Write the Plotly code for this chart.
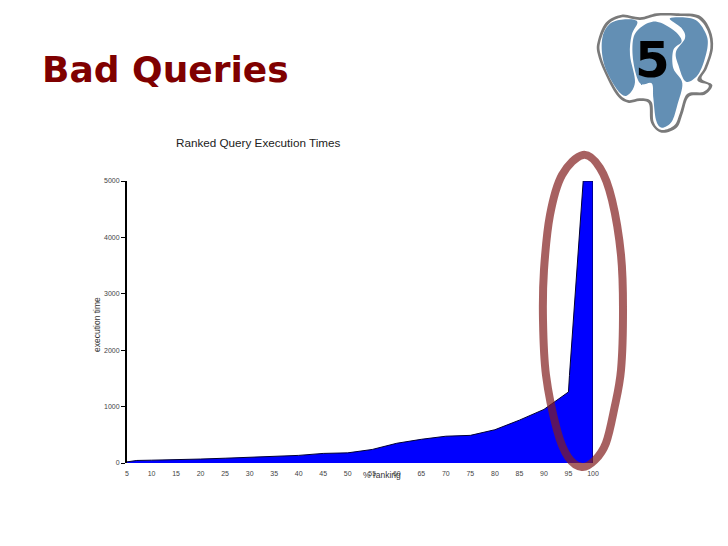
import plotly.graph_objects as go

rank_pct = [5, 7, 10, 15, 20, 25, 30, 35, 40, 45, 50, 55, 60, 65, 70, 75, 80, 85, 90, 95, 95.2, 98, 100, 100]
exec_time = [20, 45, 50, 55, 70, 85, 100, 110, 135, 170, 180, 240, 350, 420, 475, 490, 590, 760, 950, 1260, 1550, 5000, 5000, 0]
x_ticks = list(range(5, 101, 5))
y_ticks = [0, 1000, 2000, 3000, 4000, 5000]

# The page body has an 8px margin, so figure pixels = window pixels - 8.
PAGE = 8
W, H = 712, 530
L, R, T, B = 127, 593, 181, 463  # plot area in window pixels


def px(x):
    return (x - L) / (R - L)


def py(y):
    return (B - y) / (B - T)


def smooth(points):
    """Closed smooth path through outline points given in window pixels."""
    p = [(px(a), py(b)) for a, b in points]
    n = len(p)
    s = f"M{p[0][0]:.4f},{p[0][1]:.4f}"
    for i in range(n):
        p0, p1, p2, p3 = p[i - 1], p[i], p[(i + 1) % n], p[(i + 2) % n]
        c1 = (p1[0] + (p2[0] - p0[0]) / 6, p1[1] + (p2[1] - p0[1]) / 6)
        c2 = (p2[0] - (p3[0] - p1[0]) / 6, p2[1] - (p3[1] - p1[1]) / 6)
        s += f" C{c1[0]:.4f},{c1[1]:.4f} {c2[0]:.4f},{c2[1]:.4f} {p2[0]:.4f},{p2[1]:.4f}"
    return s + " Z"


def logo(points):
    return smooth([(590 + a / 3, 5 + b / 3) for a, b in points])


outer = [(23, 110), (47, 53), (95, 29), (150, 37), (200, 25), (260, 25), (327, 31), (361, 75), (369, 130),
         (351, 190), (335, 221), (367, 240), (344, 269), (297, 275), (278, 326), (260, 368), (215, 383),
         (183, 353), (177, 297), (150, 288), (114, 293), (80, 270), (43, 201), (23, 146)]
inner = [(31, 110), (54, 59), (97, 37), (150, 45), (200, 33), (260, 33), (321, 39), (353, 78), (361, 130), (343, 188),
         (322, 226), (356, 241), (339, 261), (291, 267), (270, 323), (253, 361), (215, 375), (191, 351), (185, 291),
         (150, 280), (115, 285), (85, 263), (50, 199), (31, 145)]
left_ear = [(36, 105), (58, 58), (105, 43), (142, 50), (125, 90), (120, 150), (135, 232), (110, 272), (80, 252), (43, 180)]
right_ear = [(240, 40), (312, 43), (347, 85), (352, 130), (327, 205), (288, 230), (265, 180), (258, 140), (285, 100), (275, 70)]
face = [(155, 65), (200, 50), (250, 75), (275, 108), (250, 135), (250, 190), (277, 235), (262, 300), (245, 350),
        (215, 368), (198, 345), (190, 280), (185, 235), (150, 235), (130, 170), (130, 100)]

highlight = [(583, 155), (562, 175), (550, 215), (544, 270), (543, 320), (546, 375), (557, 430), (568, 457), (582, 467),
             (595, 460), (606, 443), (614, 410), (621, 370), (623, 310), (621, 255), (612, 200), (600, 168)]

shapes = [dict(type="path", xref="paper", yref="paper", path=logo(outer), fillcolor="#7A7A7A", line=dict(width=0), layer="above"),
          dict(type="path", xref="paper", yref="paper", path=logo(inner), fillcolor="white", line=dict(width=0), layer="above")]
for part in (left_ear, right_ear, face):
    shapes.append(dict(type="path", xref="paper", yref="paper", path=logo(part), fillcolor="#638FB4", line=dict(width=0), layer="above"))
shapes.append(dict(type="path", xref="paper", yref="paper", path=smooth(highlight),
                   line=dict(color="rgba(130,30,30,0.7)", width=8), fillcolor="rgba(0,0,0,0)", layer="above"))

fig = go.Figure(go.Scatter(
    x=rank_pct, y=exec_time, mode="lines", fill="tozeroy", fillcolor="#0000FF",
    line=dict(color="#000033", width=1), hoverinfo="skip", showlegend=False,
))


def note(text, x, y, size, color, family="Liberation Sans", weight="normal", angle=0):
    return dict(text=text, xref="paper", yref="paper", x=px(x), y=py(y), xanchor="center", yanchor="middle",
                showarrow=False, textangle=angle, font=dict(family=family, size=size, color=color, weight=weight))


fig.update_layout(
    width=W, height=H, autosize=False, paper_bgcolor="white", plot_bgcolor="white",
    margin=dict(l=L - PAGE, r=W - (R - PAGE), t=T - PAGE, b=H - (B - PAGE), pad=0),
    font=dict(family="Liberation Sans", color="#333333", size=7),
    xaxis=dict(range=[5, 100], tickmode="array", tickvals=x_ticks, ticks="outside", ticklen=4,
               tickcolor="rgba(0,0,0,0)", showgrid=False, zeroline=False, showline=False,
               tickfont=dict(size=7, color="#444444")),
    yaxis=dict(range=[0, 5000], tickmode="array", tickvals=y_ticks, ticks="outside", ticklen=4, tickcolor="black",
               tickwidth=1, showgrid=False, zeroline=False, showline=True, linecolor="black", linewidth=2,
               tickfont=dict(size=7, color="#444444")),
    shapes=shapes,
    annotations=[
        note("Bad Queries", 165, 69, 36, "#7F0000", family="DejaVu Sans", weight="bold"),
        note("Ranked Query Execution Times", 258.5, 143, 11.7, "#222222"),
        note("5", 652, 60, 50, "black", family="DejaVu Sans", weight="bold"),
        note("% ranking", 381.5, 475, 8.5, "#333333"),
        note("execution time", 97, 325, 8.5, "#333333", angle=-90),
    ],
)

fig.write_html("out.html")
